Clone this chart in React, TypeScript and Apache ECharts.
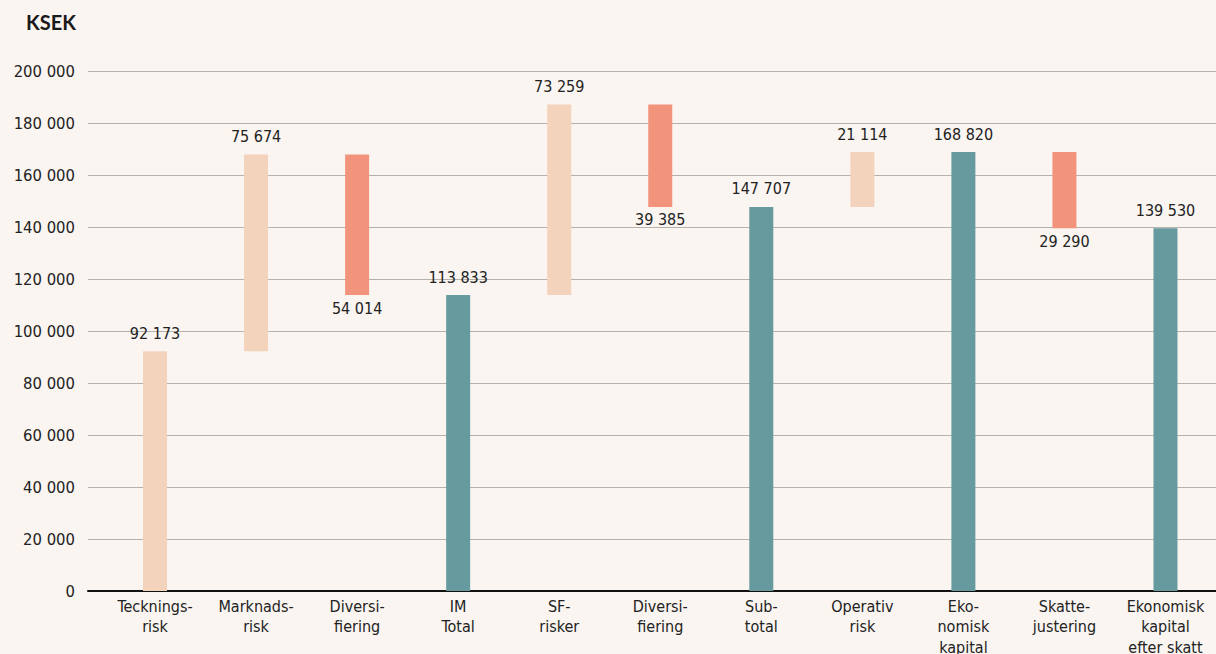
import React, { useEffect, useRef } from "react";
import * as echarts from "echarts";

const categories = [
  "Tecknings-\nrisk",
  "Marknads-\nrisk",
  "Diversi-\nfiering",
  "IM\nTotal",
  "SF-\nrisker",
  "Diversi-\nfiering",
  "Sub-\ntotal",
  "Operativ\nrisk",
  "Eko-\nnomisk\nkapital",
  "Skatte-\njustering",
  "Ekonomisk\nkapital\nefter skatt",
];
// kind: "up" = increase, "down" = decrease, "total" = subtotal
const kinds = ["up", "up", "down", "total", "up", "down", "total", "up", "total", "down", "total"];
const values = [92173, 75674, 54014, 113833, 73259, 39385, 147707, 21114, 168820, 29290, 139530];
const yTicks = [0, 20000, 40000, 60000, 80000, 100000, 120000, 140000, 160000, 180000, 200000];

const COLORS: Record<string, string> = { up: "#f4d3bd", down: "#f2937b", total: "#669a9e" };
const FONT = "'Liberation Sans Narrow', 'DejaVu Sans Condensed', 'Roboto Condensed', 'Liberation Sans', sans-serif";
const fmt = (v: number) => String(Math.round(v)).replace(/\B(?=(\d{3})+(?!\d))/g, " ");

export default function App() {
  const ref = useRef<HTMLDivElement>(null);
  useEffect(() => {
    if (!ref.current) return;
    const chart = echarts.init(ref.current, null, { renderer: "svg" });
    const bases: number[] = [];
    const heights: number[] = [];
    let level = 0;
    values.forEach((v, i) => {
      const k = kinds[i];
      if (k === "up") {
        bases.push(level);
        heights.push(v);
        level += v;
      } else if (k === "down") {
        level -= v;
        bases.push(level);
        heights.push(v);
      } else {
        bases.push(0);
        heights.push(v);
        level = v;
      }
    });
    chart.setOption({
      animation: false,
      backgroundColor: "#faf5f1",
      textStyle: { fontFamily: FONT },
      title: {
        text: "KSEK",
        left: 21,
        top: 7,
        textStyle: { fontFamily: "'Lato', 'Open Sans', sans-serif", fontSize: 20, fontWeight: "bold", color: "#1a1a1a" },
      },
      grid: [
        { left: 104.5, right: 0, top: 71, bottom: 63, containLabel: false, outerBoundsMode: "none" },
        { left: 88, right: 0, top: 71, bottom: 63, containLabel: false, outerBoundsMode: "none" },
      ],
      xAxis: [
        {
          type: "category",
          gridIndex: 0,
          data: categories,
          axisLine: { show: false },
          axisTick: { show: false },
          axisLabel: { interval: 0, margin: 5, fontSize: 16, lineHeight: 20.5, color: "#222", fontFamily: FONT },
        },
        {
          type: "value",
          gridIndex: 1,
          min: 0,
          max: 1,
          axisLine: { show: true, onZero: false, lineStyle: { color: "#111", width: 2 } },
          axisTick: { show: false },
          axisLabel: { show: false },
          splitLine: { show: false },
        },
      ],
      yAxis: [
        {
          type: "value",
          gridIndex: 0,
          min: 0,
          max: 200000,
          interval: 20000,
          axisLine: { show: false },
          axisTick: { show: false },
          axisLabel: { show: false },
          splitLine: { show: false },
        },
        {
          type: "value",
          gridIndex: 1,
          min: yTicks[0],
          max: yTicks[yTicks.length - 1],
          interval: yTicks[1] - yTicks[0],
          axisLine: { show: false },
          axisTick: { show: false },
          axisLabel: { margin: 13, fontSize: 16.5, color: "#222", fontFamily: FONT, formatter: (v: number) => fmt(v) },
          splitLine: { show: true, lineStyle: { color: "#b5b2ae", width: 1 } },
        },
      ],
      series: [
        {
          type: "bar",
          xAxisIndex: 0,
          yAxisIndex: 0,
          stack: "wf",
          barWidth: 24,
          itemStyle: { color: "transparent" },
          emphasis: { disabled: true },
          data: bases,
          silent: true,
        },
        {
          type: "bar",
          xAxisIndex: 0,
          yAxisIndex: 0,
          stack: "wf",
          barWidth: 24,
          data: heights.map((h, i) => ({
            value: h,
            itemStyle: { color: COLORS[kinds[i]] },
            label: {
              show: true,
              position: kinds[i] === "down" ? "bottom" : "top",
              distance: kinds[i] === "down" ? 5 : 10,
              formatter: () => fmt(values[i]),
              fontSize: 16,
              color: "#222",
              fontFamily: FONT,
            },
          })),
        },
      ],
    });
    return () => chart.dispose();
  }, []);
  return <div ref={ref} style={{ position: "fixed", left: 0, top: 0, width: 1216, height: 654 }} />;
}
